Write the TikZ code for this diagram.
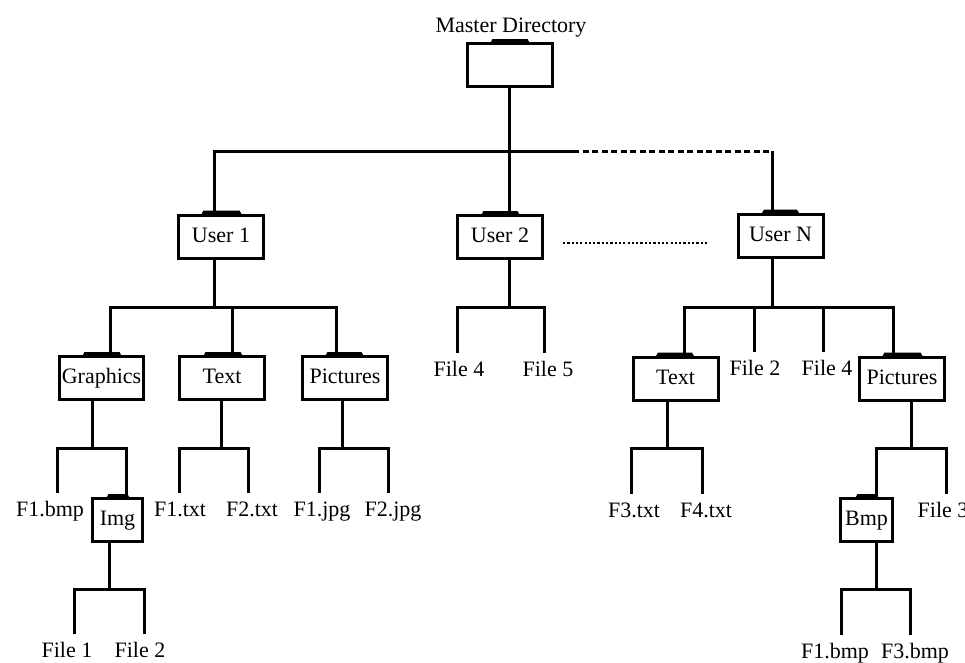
\documentclass[tikz,border=0pt]{standalone}
\usepackage{fontspec}
\setmainfont{Liberation Serif}
\begin{document}
\begin{tikzpicture}[x=1pt, y=-1pt,
    line width=3pt, line join=miter,
    every node/.style={font=\fontsize{22}{26}\selectfont},
    folder/.style={draw, line width=3pt, inner sep=0pt, outer sep=0pt,
      minimum width=85pt, minimum height=43pt, text height=15pt, text depth=4pt},
    smallfolder/.style={folder, minimum width=51pt},
    leaf/.style={inner xsep=0pt, inner ysep=8pt, outer sep=0pt,
      text height=15pt, text depth=5pt, anchor=north},
    dashline/.style={line width=3pt, dash pattern=on 6pt off 3.5pt},
    dotline/.style={line width=2.6pt, dash pattern=on 2.2pt off 2.1pt}]
\useasboundingbox (0,0) rectangle (965,662);

% ---- directory boxes ----
\node[folder] (master) at (510,65) {};
\node[anchor=base] (mastertitle) at (511,32) {Master Directory};
\node[folder] (user1) at (221,236.5) {User 1};
\node[folder] (user2) at (500,237) {User 2};
\node[folder] (userN) at (780.5,235.5) {User N};
\node[folder, minimum width=84pt] (graphics) at (101.5,378) {Graphics};
\node[folder] (text1) at (222,378) {Text};
\node[folder] (pict1) at (345,378) {Pictures};
\node[smallfolder, minimum width=50pt] (img) at (117.5,520) {Img};
\node[folder] (text2) at (675.5,378.5) {Text};
\node[folder] (pict2) at (902,378.5) {Pictures};
\node[smallfolder, minimum width=52pt] (bmp) at (866.5,520) {Bmp};

% folder tabs on top of every box
\foreach \n/\o/\w in {master/22.5/40, user1/22.5/41, user2/23.5/39, userN/23.5/38,
    graphics/22.5/40, text1/23.5/40, pict1/22.5/39, img/13.5/24,
    text2/22.5/39, pict2/22.5/41, bmp/14.5/22}
  \fill (\n.north west) ++(\o,0) -- ++(2.5,-4.5) -- ++({\w-5},0) -- ++(2.5,4.5) -- cycle;

% ---- fork points ----
\coordinate (t0) at (509,151);
\coordinate (t1) at (214,151);
\coordinate (tD) at (573,151);
\coordinate (tN) at (772,151);

\coordinate (a0) at (214,307);
\coordinate (a1) at (110,307);
\coordinate (a2) at (232,307);
\coordinate (a3) at (336,307);

\coordinate (g0) at (92,448);
\coordinate (g1) at (57,448);
\coordinate (g2) at (126,448);
\coordinate (i0) at (109,589);
\coordinate (i1) at (74,589);
\coordinate (i2) at (144,589);

\coordinate (x0) at (221,448);
\coordinate (x1) at (179,448);
\coordinate (x2) at (248,448);
\coordinate (p0) at (342,448);
\coordinate (p1) at (319,448);
\coordinate (p2) at (388,448);

\coordinate (v0) at (509,307);
\coordinate (v1) at (457,307);
\coordinate (v2) at (544,307);

\coordinate (n0) at (772,307);
\coordinate (n1) at (684,307);
\coordinate (n2) at (754,307);
\coordinate (n3) at (823,307);
\coordinate (n4) at (893,307);

\coordinate (r0) at (667,448);
\coordinate (r1) at (631,448);
\coordinate (r2) at (702,448);
\coordinate (q0) at (911,448);
\coordinate (q1) at (876,448);
\coordinate (q2) at (946,448);
\coordinate (b0) at (876,589);
\coordinate (b1) at (841,589);
\coordinate (b2) at (910,589);

\coordinate (d1) at (563,243);
\coordinate (d2) at (708,243);

% ---- file names ----
\node[leaf] (f1bmp) at (50,493) {F1.bmp};
\node[leaf] (f1txt) at (180,493) {F1.txt};
\node[leaf] (f2txt) at (252,493) {F2.txt};
\node[leaf] (f1jpg) at (322,493) {F1.jpg};
\node[leaf] (f2jpg) at (393,493) {F2.jpg};
\node[leaf] (file1) at (67,634) {File 1};
\node[leaf] (file2a) at (140,634) {File 2};
\node[leaf] (file4a) at (459,353) {File 4};
\node[leaf] (file5) at (548,353) {File 5};
\node[leaf] (f3txt) at (634,494) {F3.txt};
\node[leaf] (f4txt) at (706,494) {F4.txt};
\node[leaf] (file2b) at (755,352) {File 2};
\node[leaf] (file4b) at (827,352) {File 4};
\node[leaf] (file3) at (943,494) {File 3};
\node[leaf] (f1bmpb) at (835,635) {F1.bmp};
\node[leaf] (f3bmp) at (915,635) {F3.bmp};

% ---- connectors ----
% master directory to users
\draw (master.south -| t0) -- (t0);
\draw (t1 |- user1.north) -- (t1) -- (tD);
\draw (t0) -- (t0 |- user2.north);
\draw[dashline] (tD) -- (tN);
\draw (tN) -- (tN |- userN.north);
\draw[dotline] (d1) -- (d2);

% User 1
\draw (user1.south -| a0) -- (a0);
\draw (a1 |- graphics.north) -- (a1) -- (a3) -- (a3 |- pict1.north);
\draw (a2) -- (a2 |- text1.north);

% Graphics
\draw (graphics.south -| g0) -- (g0);
\draw (g1 |- f1bmp.north) -- (g1) -- (g2) -- (g2 |- img.north);
\draw (img.south -| i0) -- (i0);
\draw (i1 |- file1.north) -- (i1) -- (i2) -- (i2 |- file2a.north);

% Text and Pictures of User 1
\draw (text1.south -| x0) -- (x0);
\draw (x1 |- f1txt.north) -- (x1) -- (x2) -- (x2 |- f2txt.north);
\draw (pict1.south -| p0) -- (p0);
\draw (p1 |- f1jpg.north) -- (p1) -- (p2) -- (p2 |- f2jpg.north);

% User 2
\draw (user2.south -| v0) -- (v0);
\draw (v1 |- file4a.north) -- (v1) -- (v2) -- (v2 |- file5.north);

% User N
\draw (userN.south -| n0) -- (n0);
\draw (n1 |- text2.north) -- (n1) -- (n4) -- (n4 |- pict2.north);
\draw (n2) -- (n2 |- file2b.north);
\draw (n3) -- (n3 |- file4b.north);

\draw (text2.south -| r0) -- (r0);
\draw (r1 |- f3txt.north) -- (r1) -- (r2) -- (r2 |- f4txt.north);
\draw (pict2.south -| q0) -- (q0);
\draw (q1 |- bmp.north) -- (q1) -- (q2) -- (q2 |- file3.north);
\draw (bmp.south -| b0) -- (b0);
\draw (b1 |- f1bmpb.north) -- (b1) -- (b2) -- (b2 |- f3bmp.north);
\end{tikzpicture}
\end{document}
